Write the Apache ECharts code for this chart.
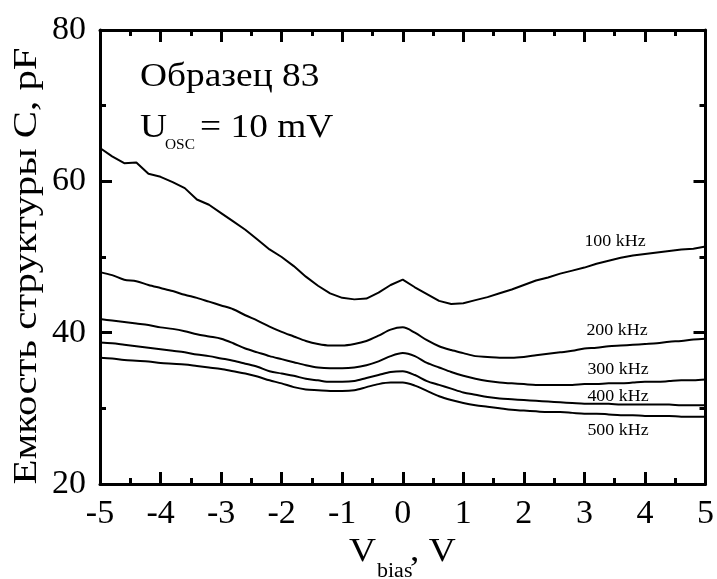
<!DOCTYPE html>
<html><head><meta charset="utf-8">
<script src="https://cdn.jsdelivr.net/npm/echarts@6/dist/echarts.min.js"></script>
<style>html,body{margin:0;padding:0;background:#fff}#c{width:717px;height:579px}</style>
</head><body><div id="c"></div>
<script>
const xValues = [-5.0,-4.8,-4.6,-4.4,-4.2,-4.0,-3.8,-3.6,-3.4,-3.2,-3.0,-2.8,-2.6,-2.4,-2.2,-2.0,-1.8,-1.6,-1.4,-1.2,-1.0,-0.8,-0.6,-0.4,-0.2,0.0,0.2,0.4,0.6,0.8,1.0,1.2,1.4,1.6,1.8,2.0,2.2,2.4,2.6,2.8,3.0,3.2,3.4,3.6,3.8,4.0,4.2,4.4,4.6,4.8,5.0];
const c100 = [64.4,63.3,62.4,62.5,61.0,60.6,59.9,59.1,57.6,56.9,55.8,54.7,53.6,52.3,51.0,50.0,48.8,47.4,46.2,45.2,44.6,44.4,44.5,45.3,46.3,47.0,46.0,45.1,44.2,43.8,43.9,44.3,44.7,45.2,45.7,46.3,46.9,47.3,47.8,48.2,48.6,49.1,49.5,49.9,50.2,50.4,50.6,50.8,51.0,51.1,51.4];
const c200 = [48.0,47.6,47.0,46.8,46.3,45.9,45.5,45.0,44.6,44.1,43.6,43.1,42.3,41.6,40.8,40.1,39.5,38.9,38.5,38.3,38.3,38.5,38.9,39.6,40.4,40.7,40.0,39.0,38.2,37.7,37.3,36.9,36.8,36.7,36.7,36.8,37.0,37.2,37.4,37.6,37.9,38.0,38.2,38.3,38.4,38.5,38.6,38.8,38.9,39.1,39.2];
const c300 = [41.8,41.6,41.4,41.2,41.0,40.7,40.5,40.2,39.8,39.5,39.2,38.6,37.9,37.4,36.9,36.5,36.1,35.7,35.4,35.3,35.3,35.4,35.7,36.2,36.9,37.3,36.9,36.0,35.4,34.8,34.3,33.9,33.6,33.4,33.3,33.2,33.1,33.1,33.1,33.1,33.2,33.2,33.3,33.3,33.4,33.5,33.5,33.6,33.7,33.7,33.8];
const c400 = [38.7,38.6,38.4,38.2,38.0,37.8,37.6,37.4,37.1,36.9,36.6,36.3,35.9,35.5,34.9,34.6,34.3,33.9,33.7,33.5,33.5,33.6,34.0,34.4,34.8,34.9,34.4,33.6,33.1,32.6,32.1,31.8,31.5,31.3,31.2,31.1,31.0,30.9,30.8,30.7,30.6,30.6,30.6,30.5,30.5,30.5,30.5,30.5,30.4,30.4,30.4];
const c500 = [36.7,36.6,36.4,36.3,36.2,36.0,35.9,35.8,35.6,35.4,35.2,34.9,34.6,34.2,33.7,33.3,32.8,32.5,32.4,32.3,32.3,32.4,32.8,33.2,33.4,33.4,33.0,32.3,31.6,31.1,30.7,30.4,30.2,30.0,29.8,29.7,29.6,29.5,29.5,29.4,29.3,29.3,29.2,29.1,29.1,29.0,29.0,29.0,28.9,28.9,28.9];
const seriesNames = ['100 kHz','200 kHz','300 kHz','400 kHz','500 kHz'];
const seriesValues = [c100, c200, c300, c400, c500];
const xTicks = {min: -5, max: 5, interval: 1};
const yTicks = {min: 20, max: 80, interval: 20};

const FONT = '"Liberation Serif", "DejaVu Serif", serif';
const chart = echarts.init(document.getElementById('c'), null, {renderer: 'canvas'});

function axisBase(show) {
  return {
    axisLine: {show: true, onZero: false, lineStyle: {color: '#000', width: 3}},
    axisTick: {show: true, inside: true, length: 12, lineStyle: {color: '#000', width: 3}},
    minorTick: {show: true, splitNumber: 2, length: 6, lineStyle: {color: '#000', width: 3}},
    splitLine: {show: false},
    axisLabel: {show: show, color: '#000', fontFamily: FONT, fontSize: 34}
  };
}

const option = {
  animation: false,
  backgroundColor: '#fff',
  grid: {left: 100, right: 11, top: 30, bottom: 95, containLabel: false},
  xAxis: [
    Object.assign({type: 'value', position: 'bottom', min: xTicks.min, max: xTicks.max, interval: xTicks.interval}, axisBase(true), {axisLabel: {color: '#000', fontFamily: FONT, fontSize: 34, margin: 13}}),
    Object.assign({type: 'value', position: 'top', min: xTicks.min, max: xTicks.max, interval: xTicks.interval}, axisBase(false))
  ],
  yAxis: [
    Object.assign({type: 'value', position: 'left', min: yTicks.min, max: yTicks.max, interval: yTicks.interval}, axisBase(true), {axisLabel: {color: '#000', fontFamily: FONT, fontSize: 34, margin: 14}}),
    Object.assign({type: 'value', position: 'right', min: yTicks.min, max: yTicks.max, interval: yTicks.interval}, axisBase(false))
  ],
  series: seriesNames.map((n, i) => ({
    name: n, type: 'line', xAxisIndex: 0, yAxisIndex: 0,
    showSymbol: false, symbol: 'none', smooth: i === 0 ? false : 0.3,
    lineStyle: {color: '#000', width: 2},
    data: xValues.map((x, k) => [x, seriesValues[i][k]])
  })),
  graphic: [
    {type: 'text', x: 140, y: 60, scaleX: 1.1, style: {text: 'Образец 83', font: '34px ' + FONT, fill: '#000'}},
    {type: 'text', x: 140, y: 111, scaleX: 1.1, style: {text: 'U', font: '34px ' + FONT, fill: '#000'}},
    {type: 'text', x: 165, y: 138, scaleX: 1.1, style: {text: 'OSC', font: '14px ' + FONT, fill: '#000'}},
    {type: 'text', x: 200, y: 111, scaleX: 1.1, style: {text: '= 10 mV', font: '34px ' + FONT, fill: '#000'}},
    {type: 'text', x: 27, y: 266, rotation: Math.PI / 2, scaleX: 1.2, style: {text: 'Емкость структуры C, pF', font: '34px ' + FONT, fill: '#000', textAlign: 'center', textVerticalAlign: 'middle'}},
    {type: 'text', x: 349, y: 535, scaleX: 1.1, style: {text: 'V', font: '34px ' + FONT, fill: '#000'}},
    {type: 'text', x: 377, y: 562, scaleX: 1.1, style: {text: 'bias', font: '20px ' + FONT, fill: '#000'}},
    {type: 'text', x: 410, y: 535, scaleX: 1.1, style: {text: ', V', font: '34px ' + FONT, fill: '#000'}},
    {type: 'text', x: 615, y: 242, scaleX: 1.12, style: {text: '100 kHz', font: '16px ' + FONT, fill: '#000', textAlign: 'center', textVerticalAlign: 'middle'}},
    {type: 'text', x: 617, y: 331, scaleX: 1.12, style: {text: '200 kHz', font: '16px ' + FONT, fill: '#000', textAlign: 'center', textVerticalAlign: 'middle'}},
    {type: 'text', x: 618, y: 370, scaleX: 1.12, style: {text: '300 kHz', font: '16px ' + FONT, fill: '#000', textAlign: 'center', textVerticalAlign: 'middle'}},
    {type: 'text', x: 618, y: 397, scaleX: 1.12, style: {text: '400 kHz', font: '16px ' + FONT, fill: '#000', textAlign: 'center', textVerticalAlign: 'middle'}},
    {type: 'text', x: 618, y: 431, scaleX: 1.12, style: {text: '500 kHz', font: '16px ' + FONT, fill: '#000', textAlign: 'center', textVerticalAlign: 'middle'}}
  ]
};
chart.setOption(option);
</script></body></html>
